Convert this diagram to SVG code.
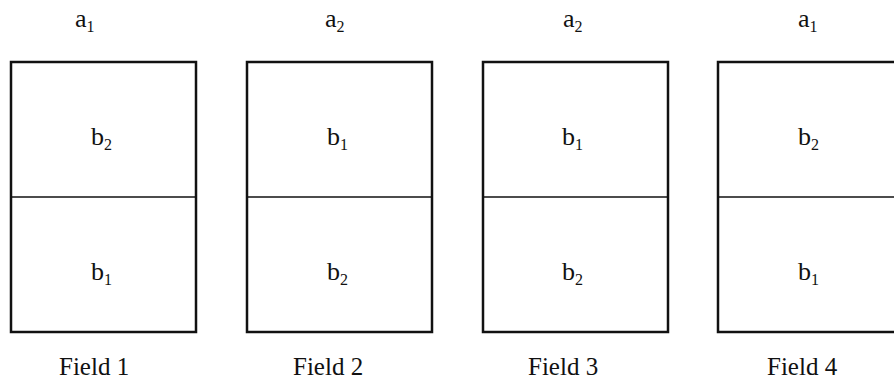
<svg xmlns="http://www.w3.org/2000/svg" width="894" height="382" viewBox="0 0 894 382">
<style>
.box{fill:#fff;stroke:#111;stroke-width:2.5}
.div{stroke:#111;stroke-width:1.5}
.t{font-family:'Liberation Serif','Tinos','Times New Roman','DejaVu Serif',serif;font-size:26px;fill:#111}
.s{font-size:16px}
.f{font-family:'Liberation Serif','Tinos','Times New Roman','DejaVu Serif',serif;font-size:25px;fill:#111}
</style>
<rect width="894" height="382" fill="#fff"/>
<g id="field1">
<text class="t" x="75" y="27">a<tspan class="s" dy="5">1</tspan></text>
<rect class="box" x="11" y="62" width="185" height="270"/>
<line class="div" x1="11" y1="197" x2="196" y2="197"/>
<text class="t" x="91" y="145">b<tspan class="s" dy="5">2</tspan></text>
<text class="t" x="91" y="280">b<tspan class="s" dy="5">1</tspan></text>
<text class="f" x="59" y="375">Field 1</text>
</g>
<g id="field2">
<text class="t" x="325" y="27">a<tspan class="s" dy="5">2</tspan></text>
<rect class="box" x="247" y="62" width="185" height="270"/>
<line class="div" x1="247" y1="197" x2="432" y2="197"/>
<text class="t" x="327" y="145">b<tspan class="s" dy="5">1</tspan></text>
<text class="t" x="327" y="280">b<tspan class="s" dy="5">2</tspan></text>
<text class="f" x="293" y="375">Field 2</text>
</g>
<g id="field3">
<text class="t" x="563" y="27">a<tspan class="s" dy="5">2</tspan></text>
<rect class="box" x="483" y="62" width="185" height="270"/>
<line class="div" x1="483" y1="197" x2="668" y2="197"/>
<text class="t" x="562" y="145">b<tspan class="s" dy="5">1</tspan></text>
<text class="t" x="562" y="280">b<tspan class="s" dy="5">2</tspan></text>
<text class="f" x="528" y="375">Field 3</text>
</g>
<g id="field4">
<text class="t" x="798" y="27">a<tspan class="s" dy="5">1</tspan></text>
<rect class="box" x="718" y="62" width="185" height="270"/>
<line class="div" x1="718" y1="197" x2="903" y2="197"/>
<text class="t" x="798" y="145">b<tspan class="s" dy="5">2</tspan></text>
<text class="t" x="798" y="280">b<tspan class="s" dy="5">1</tspan></text>
<text class="f" x="767" y="375">Field 4</text>
</g>
<g id="connectors"></g>
</svg>
